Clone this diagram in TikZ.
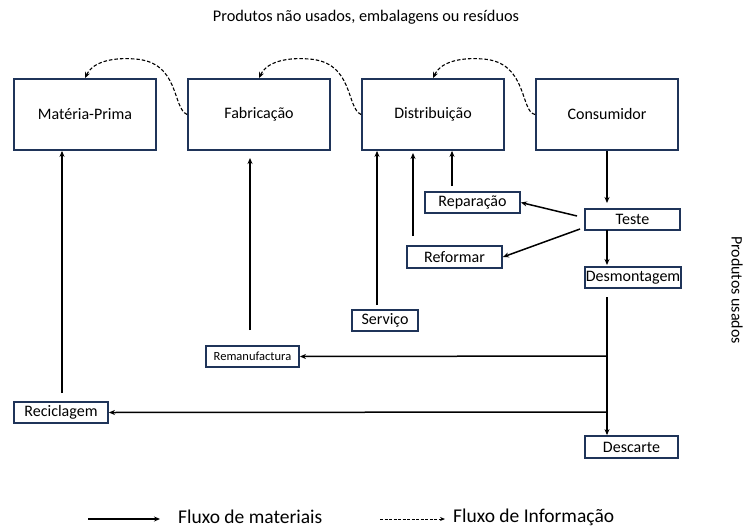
\documentclass[tikz,border=0pt]{standalone}
\usepackage{fontspec}
\setmainfont{Carlito}
\usetikzlibrary{arrows.meta}
\definecolor{boxblue}{HTML}{1F3459}
\begin{document}
\begin{tikzpicture}[x=1pt,y=-1pt,
  bigbox/.style={draw=boxblue,line width=1.8pt,minimum width=142pt,minimum height=71pt,inner sep=0pt,font=\fontsize{16}{18}\selectfont},
  smallbox/.style={draw=boxblue,line width=1.8pt,minimum height=21pt,inner sep=0pt,font=\fontsize{16}{18}\selectfont},
  mat/.style={line width=1.5pt,-{Stealth[length=6pt,width=5pt]}},
  info/.style={line width=1.1pt,dash pattern=on 3.5pt off 2pt,-{Stealth[length=6pt,width=5pt]}},
  lbl/.style={inner sep=0pt}]
\useasboundingbox (0,0) rectangle (746,530);
\node[lbl,font=\fontsize{16.3}{18}\selectfont] (title) at (366,17) {Produtos não usados, embalagens ou resíduos};
\node[lbl,font=\fontsize{16}{18}\selectfont,rotate=-90] (pu) at (737,290) {Produtos usados};
% big boxes
\node[bigbox] (mp) at (85,114.5) {Matéria-Prima};
\node[bigbox] (fab) at (259,114.5) {Fabricação};
\node[bigbox] (dist) at (433,114.5) {Distribuição};
\node[bigbox] (cons) at (607,114.5) {Consumidor};
% small boxes
\node[smallbox,minimum width=95pt] (rep) at (472.5,202.5) {Reparação};
\node[smallbox,minimum width=95pt] (teste) at (632.5,219.5) {Teste};
\node[smallbox,minimum width=95pt,minimum height=22pt] (refo) at (454.5,257) {Reformar};
\node[smallbox,minimum width=96pt] (desm) at (633,277.5) {Desmontagem};
\node[smallbox,minimum width=66pt] (serv) at (385,320.5) {Serviço};
\node[smallbox,minimum width=93pt,font=\fontsize{12.5}{14}\selectfont] (reman) at (252.5,356.5) {Remanufactura};
\node[smallbox,minimum width=94pt] (recic) at (61,412.5) {Reciclagem};
\node[smallbox,minimum width=93pt,minimum height=22pt] (desc) at (631.5,447) {Descarte};
% information flow
\draw[info] (fab.west) .. controls (172,108) and (180,62) .. (135,59) .. controls (110,57) and (92,63) .. (mp.north);
\draw[info] (dist.west) .. controls (346,108) and (354,62) .. (309,59) .. controls (284,57) and (266,63) .. (fab.north);
\draw[info] (cons.west) .. controls (520,112) and (528,62) .. (483,59) .. controls (458,57) and (440,63) .. (dist.north);
% material flow
\coordinate (c0) at (607,297);
\coordinate (j1) at (607,356);
\coordinate (j2) at (607,412);
\draw[mat] (cons.south) -- (607,203);
\draw[mat] (607,230) -- (607,265);
\draw[mat] (c0) -- (desc.north -| c0);
\draw[mat] (j1) -- (reman.east);
\draw[mat] (j2) -- (recic.east);
\draw[mat] (62,393) -- (mp.south -| 62,0);
\draw[mat] (250,330) -- (250,158);
\draw[mat] (377,305) -- (dist.south -| 377,0);
\draw[mat] (413,236) -- (413,153);
\draw[mat] (452,186) -- (dist.south -| 452,0);
\draw[mat] (577,216) -- (rep.east);
\draw[mat] (580,229) -- (refo.east);
% legend
\coordinate (la1) at (88,519);
\coordinate (la2) at (160,519);
\draw[line width=1.1pt,-{Stealth[length=6pt,width=5pt]}] (la1) -- (la2);
\node[lbl,anchor=west,font=\fontsize{19.5}{22}\selectfont] (l1) at (178,517) {Fluxo de materiais};
\coordinate (lb1) at (380,519);
\coordinate (lb2) at (445,519);
\draw[line width=0.9pt,dash pattern=on 3pt off 1.5pt,-{Stealth[length=5pt,width=4pt]}] (lb1) -- (lb2);
\node[lbl,anchor=west,font=\fontsize{19.5}{22}\selectfont] (l2) at (453,517) {Fluxo de Informação};
\end{tikzpicture}
\end{document}
